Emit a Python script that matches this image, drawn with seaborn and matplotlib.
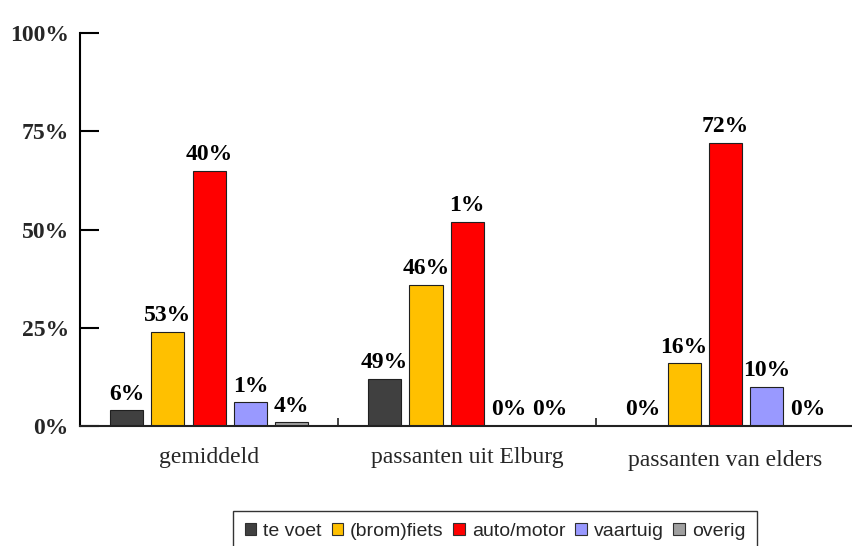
import matplotlib
matplotlib.use("Agg")
import matplotlib.pyplot as plt
from matplotlib.patches import Patch
import seaborn as sns
import pandas as pd

categories = ['gemiddeld', 'passanten uit Elburg', 'passanten van elders']
modes = ['te voet', '(brom)fiets', 'auto/motor', 'vaartuig', 'overig']
colors = ['#404040', '#FFC000', '#FF0000', '#9999FF', '#A0A0A0']

# bar heights (% as drawn)
te_voet = [4, 12, 0]
brom_fiets = [24, 36, 16]
auto_motor = [65, 52, 72]
vaartuig = [6, 0, 10]
overig = [1, 0, 0]

# labels printed above the bars
lbl_te_voet = ['6%', '49%', '0%']
lbl_brom_fiets = ['53%', '46%', '16%']
lbl_auto_motor = ['40%', '1%', '72%']
lbl_vaartuig = ['1%', '0%', '10%']
lbl_overig = ['4%', '0%', '0%']

yticks = [0, 25, 50, 75, 100]
ytick_labels = ['0%', '25%', '50%', '75%', '100%']

values = [te_voet, brom_fiets, auto_motor, vaartuig, overig]
labels = [lbl_te_voet, lbl_brom_fiets, lbl_auto_motor, lbl_vaartuig, lbl_overig]

rows = []
for mode, vals in zip(modes, values):
    for cat, v in zip(categories, vals):
        rows.append({'categorie': cat, 'vervoer': mode, 'aandeel': v})
df = pd.DataFrame(rows)

sns.set_style('white')
serif = ['Liberation Serif', 'DejaVu Serif']
sans = ['Liberation Sans', 'DejaVu Sans']

fig = plt.figure(figsize=(8.52, 5.46), dpi=100)
ax = fig.add_axes([80 / 852, 1 - 426 / 546, 772 / 852, 393 / 546])

sns.barplot(data=df, x='categorie', y='aandeel', hue='vervoer',
            order=categories, hue_order=modes, palette=colors, saturation=1,
            width=0.8, gap=0.2, edgecolor='#202020', linewidth=0.8,
            legend=False, ax=ax)

# value labels
for cont, lbl in zip(ax.containers, labels):
    ax.bar_label(cont, labels=lbl, padding=4, fontsize=17,
                 fontweight='bold', family=serif, color='black')

ax.set_xlim(-0.5, 2.49)
ax.set_ylim(0, 100)
ax.set_xlabel('')
ax.set_ylabel('')

ax.set_yticks(yticks)
ax.set_yticklabels(ytick_labels, fontsize=17, fontweight='bold', family=serif)
ax.tick_params(axis='y', left=True, direction='in', length=14, width=1.5,
               pad=8, color='black')

ax.set_xticks(range(len(categories)))
ax.set_xticklabels(categories, fontsize=17, family=serif)
ax.tick_params(axis='x', which='major', bottom=True, length=0, pad=15)
ax.set_xticks([0.5, 1.5], minor=True)
ax.tick_params(axis='x', which='minor', bottom=True, direction='in',
               length=6, width=1.2, color='#222222')
ax.xaxis.get_ticklabels()[2].set_y(-0.008)

for s in ['top', 'right']:
    ax.spines[s].set_visible(False)
ax.spines['left'].set_linewidth(1.5)
ax.spines['left'].set_color('black')
ax.spines['bottom'].set_linewidth(1.5)
ax.spines['bottom'].set_color('#222222')

# legend box runs off the bottom edge, as in the original
handles = [Patch(facecolor=c, edgecolor='#303030', linewidth=0.8) for c in colors]
fig.legend(handles, modes, loc='upper center', ncol=5,
           bbox_to_anchor=(495 / 852, 1 - 511 / 546),
           frameon=True, fancybox=False, edgecolor='#333333', framealpha=1,
           handlelength=0.6, handleheight=0.6, handletextpad=0.35,
           columnspacing=0.5, borderpad=0.6, borderaxespad=0,
           prop={'family': sans, 'size': 14})

fig.savefig('out.png', dpi=100)
